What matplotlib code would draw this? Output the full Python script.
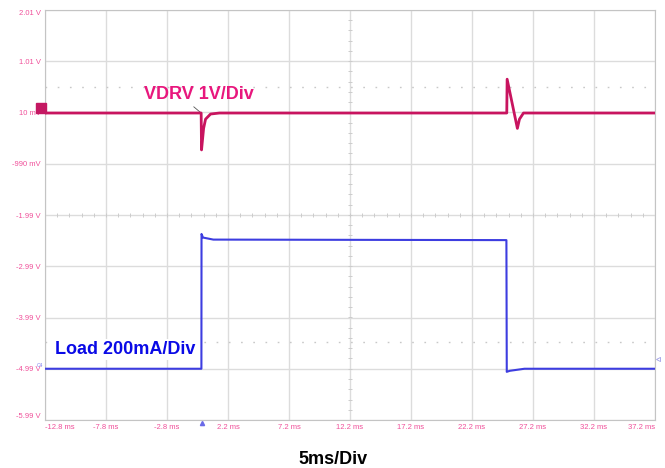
"""Scope capture: VDRV response to a load step."""
import matplotlib.pyplot as plt
import numpy as np

# time axis (ms) and scope graticule
x_ticks = [-12.8, -7.8, -2.8, 2.2, 7.2, 12.2, 17.2, 22.2, 27.2, 32.2, 37.2]
x_labels = ["-12.8 ms", "-7.8 ms", "-2.8 ms", "2.2 ms", "7.2 ms", "12.2 ms",
            "17.2 ms", "22.2 ms", "27.2 ms", "32.2 ms", "37.2 ms"]
y_ticks = [-5.99, -4.99, -3.99, -2.99, -1.99, -0.99, 0.01, 1.01, 2.01]
y_labels = ["-5.99 V", "-4.99 V", "-3.99 V", "-2.99 V", "-1.99 V",
            "-990 mV", "10 mV", "1.01 V", "2.01 V"]

# VDRV trace (screen volts)
vdrv_t = [-12.8, 0.0, 0.03, 0.2, 0.36, 0.77, 1.5, 25.05, 25.08, 25.92, 26.09, 26.42, 37.2]
vdrv_v = [0.0, 0.0, -0.72, -0.30, -0.12, -0.02, 0.0, 0.0, 0.66, -0.30, -0.12, 0.0, 0.0]

# load current trace (screen volts, 200mA/div)
load_t = [-12.8, 0.02, 0.03, 0.15, 1.0, 25.02, 25.05, 25.3, 26.5, 37.2]
load_v = [-4.99, -4.99, -2.36, -2.43, -2.47, -2.48, -5.05, -5.03, -4.99, -4.99]

# trigger level markers
trig_levels = [0.51, -4.47]

fig = plt.figure(figsize=(6.65, 4.68), dpi=100)
ax = fig.add_axes([45 / 665, 48 / 468, 610 / 665, 410 / 468])
ax.set_xlim(x_ticks[0], x_ticks[-1])
ax.set_ylim(y_ticks[0], y_ticks[-1])

tick_font = dict(family=['Liberation Sans Narrow', 'Liberation Sans'], size=5.5, color='#F0509A')
ax.set_xticks(x_ticks, x_labels, **tick_font)
ax.set_yticks(y_ticks, y_labels, **tick_font)
ax.tick_params(length=0, pad=3)
xl = ax.get_xticklabels()
xl[0].set_ha('left')
xl[-1].set_ha('right')
yl = ax.get_yticklabels()
yl[0].set_va('bottom')
yl[-1].set_va('top')

ax.grid(True, color='#DCDCDC', lw=1)
for s in ax.spines.values():
    s.set_color('#C4C4C4')

# centre-line sub-division marks
ax.plot(np.arange(-12.8, 37.3, 1.0), np.full(51, -1.99), ls='none',
        marker='|', ms=3.5, color='#CCCCCC', mew=0.7)
ax.plot(np.full(41, 12.2), np.arange(-5.99, 2.02, 0.2), ls='none',
        marker='_', ms=3.5, color='#CCCCCC', mew=0.7)
for lv in trig_levels:
    ax.axhline(lv, color='#C8C8C8', lw=1, ls=(0, (1.2, 7.6)))

ax.plot(load_t, load_v, color='#3D3DE0', lw=1.5, zorder=3)
ax.plot(vdrv_t, vdrv_v, color='#C8145F', lw=2.0, zorder=4)

ax.text(-0.22, 0.36, "VDRV 1V/Div", color='#E8177D', fontsize=13,
        fontweight='bold', family='Liberation Sans', ha='center', va='center')
ax.plot([-0.6, 0.0], [0.12, 0.0], color='#555555', lw=0.6)
ax.text(-6.26, -4.61, "Load 200mA/Div", color='#0A0AE6', fontsize=13,
        fontweight='bold', family='Liberation Sans', ha='center', va='center',
        bbox=dict(facecolor='white', edgecolor='none', pad=1.5), zorder=5)

# channel markers
ax.plot([-13.1], [0.1], marker='s', ms=7, color='#C41862', clip_on=False, zorder=6)
ax.text(-13.2, -4.92, "C4", fontsize=3.5, color='#8080F0', ha='center', va='center')
ax.plot([0.03], [-6.05], marker='^', ms=3, color='#6A6AE8', clip_on=False)
ax.plot([37.45], [-4.8], marker='<', ms=3, color='white', mec='#A0A0E8', mew=0.6, clip_on=False)

fig.text(333 / 665, 1 - 459 / 468, "5ms/Div", fontsize=13, fontweight='bold',
         family='Liberation Sans', ha='center', va='center')

fig.savefig("out.png", dpi=100)
